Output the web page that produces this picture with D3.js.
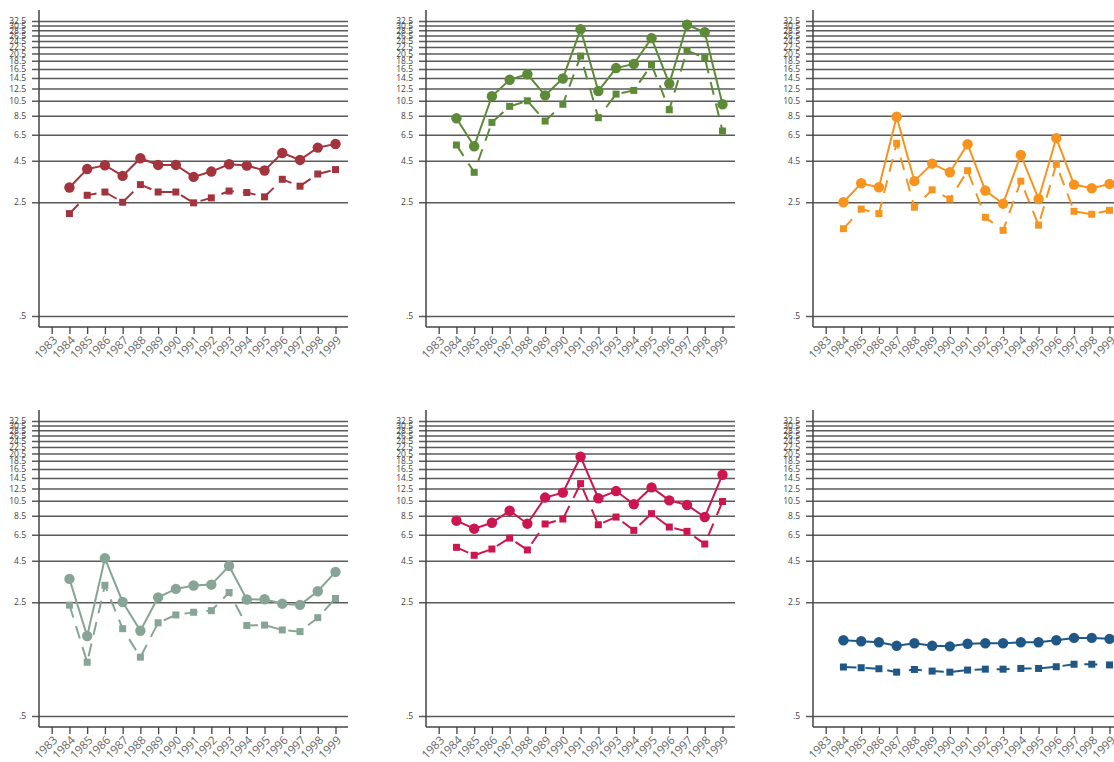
<!DOCTYPE html>
<html>
<head>
<meta charset="utf-8">
<script src="https://cdn.jsdelivr.net/npm/d3@7"></script>
<style>
  html, body { margin: 0; padding: 0; background: #fff; }
  svg { display: block; }
  text { font-family: "Open Sans", "DejaVu Sans", sans-serif; }
</style>
</head>
<body>
<svg id="chart" width="1114" height="762"></svg>
<script>
// Years on the x axis (1983 has a tick but no observation)
const years = [1983, 1984, 1985, 1986, 1987, 1988, 1989, 1990, 1991, 1992, 1993, 1994, 1995, 1996, 1997, 1998, 1999];
const dataYears = [1984, 1985, 1986, 1987, 1988, 1989, 1990, 1991, 1992, 1993, 1994, 1995, 1996, 1997, 1998, 1999];

// Y axis ticks (log scale)
const yTicks = [0.5, 2.5, 4.5, 6.5, 8.5, 10.5, 12.5, 14.5, 16.5, 18.5, 20.5, 22.5, 24.5, 26.5, 28.5, 30.5, 32.5];
const yTickLabels = [".5", "2.5", "4.5", "6.5", "8.5", "10.5", "12.5", "14.5", "16.5", "18.5", "20.5", "22.5", "24.5", "26.5", "28.5", "30.5", "32.5"];

// Series per panel: upper (solid, circles) and lower (dashed, squares)
const redUpper    = [3.08, 4.00, 4.22, 3.63, 4.66, 4.24, 4.24, 3.58, 3.86, 4.28, 4.20, 3.92, 5.02, 4.55, 5.42, 5.70];
const redLower    = [2.13, 2.76, 2.89, 2.50, 3.21, 2.89, 2.89, 2.48, 2.66, 2.93, 2.87, 2.70, 3.46, 3.14, 3.73, 3.97];

const greenUpper  = [8.2, 5.52, 11.2, 14.15, 15.3, 11.35, 14.4, 28.9, 12.06, 16.7, 17.7, 25.5, 13.4, 30.8, 27.7, 10.0];
const greenLower  = [5.62, 3.82, 7.74, 9.71, 10.5, 7.89, 10.0, 19.8, 8.27, 11.55, 12.17, 17.5, 9.26, 21.4, 19.3, 6.85];

const orangeUpper = [2.50, 3.27, 3.09, 8.39, 3.37, 4.32, 3.82, 5.68, 2.95, 2.45, 4.88, 2.62, 6.20, 3.21, 3.05, 3.24];
const orangeLower = [1.72, 2.27, 2.13, 5.76, 2.33, 2.98, 2.62, 3.91, 2.02, 1.68, 3.37, 1.81, 4.28, 2.20, 2.11, 2.23];

const sageUpper   = [3.48, 1.55, 4.66, 2.51, 1.67, 2.68, 3.02, 3.17, 3.21, 4.18, 2.60, 2.61, 2.45, 2.41, 2.92, 3.84];
const sageLower   = [2.40, 1.07, 3.18, 1.72, 1.15, 1.87, 2.09, 2.17, 2.22, 2.87, 1.80, 1.81, 1.69, 1.65, 2.01, 2.64];

const crimsonUpper = [7.93, 7.08, 7.70, 9.13, 7.60, 11.0, 11.8, 19.6, 10.9, 12.06, 10.0, 12.7, 10.57, 9.90, 8.35, 15.2];
const crimsonLower = [5.44, 4.86, 5.31, 6.20, 5.24, 7.57, 8.12, 13.4, 7.49, 8.35, 6.92, 8.76, 7.25, 6.82, 5.70, 10.4];

const blueUpper   = [1.46, 1.44, 1.42, 1.35, 1.40, 1.35, 1.34, 1.39, 1.40, 1.40, 1.42, 1.42, 1.46, 1.51, 1.51, 1.49];
const blueLower   = [1.00, 0.99, 0.976, 0.93, 0.966, 0.944, 0.93, 0.958, 0.97, 0.97, 0.98, 0.98, 1.004, 1.04, 1.04, 1.03];

const panels = [
  { upper: redUpper,     lower: redLower,     color: "#a3343e" },
  { upper: greenUpper,   lower: greenLower,   color: "#5d8a36" },
  { upper: orangeUpper,  lower: orangeLower,  color: "#f7941e" },
  { upper: sageUpper,    lower: sageLower,    color: "#87a596" },
  { upper: crimsonUpper, lower: crimsonLower, color: "#cc1650" },
  { upper: blueUpper,    lower: blueLower,    color: "#1f5886" }
];

const svg = d3.select("#chart");

const colX = [39, 426, 813];
const rowY = [0, 400];
const plotW = 309;

const x = d3.scaleLinear().domain([1983, 1999]).range([12.7, 296.5]);
const y = d3.scaleLog().domain([0.5, 32.5]).range([316, 21]);
const axisBottomY = 327;
const axisTopY = 10;

panels.forEach((p, i) => {
  const g = svg.append("g")
    .attr("transform", `translate(${colX[i % 3]},${rowY[Math.floor(i / 3)]})`);

  // horizontal gridlines with short outer ticks
  const yAxis = d3.axisLeft(y)
    .tickValues(yTicks)
    .tickFormat((d, k) => yTickLabels[k])
    .tickSizeInner(-plotW)
    .tickSizeOuter(0)
    .tickPadding(12);
  const ya = g.append("g").call(yAxis);
  ya.select(".domain").remove();
  ya.selectAll(".tick line")
    .attr("x1", -7)
    .attr("stroke", "#5a5a5a")
    .attr("stroke-width", 1.5);
  ya.selectAll(".tick text")
    .attr("x", -13)
    .attr("fill", "#444")
    .style("font-size", "8.5px");

  // vertical axis line
  g.append("line")
    .attr("x1", 0).attr("x2", 0)
    .attr("y1", axisTopY).attr("y2", axisBottomY)
    .attr("stroke", "#444").attr("stroke-width", 1.5);

  // x axis
  const xAxis = d3.axisBottom(x)
    .tickValues(years)
    .tickFormat(d3.format("d"))
    .tickSizeInner(7)
    .tickSizeOuter(0);
  const xa = g.append("g")
    .attr("transform", `translate(0,${axisBottomY})`)
    .call(xAxis);
  xa.select(".domain")
    .attr("d", `M0,0H${plotW}`)
    .attr("stroke", "#444")
    .attr("stroke-width", 1.5);
  xa.selectAll(".tick line").attr("stroke", "#444").attr("stroke-width", 1.3);
  xa.selectAll(".tick text")
    .attr("fill", "#666")
    .style("font-size", "11.5px")
    .attr("text-anchor", "end")
    .attr("y", 0)
    .attr("dy", "0.35em")
    .attr("transform", "translate(3,11) rotate(-45)");

  const line = d3.line()
    .x((d, k) => x(dataYears[k]))
    .y(d => y(d));

  // lower series: dashed line with square markers
  g.append("path")
    .datum(p.lower)
    .attr("d", line)
    .attr("fill", "none")
    .attr("stroke", p.color)
    .attr("stroke-width", 2)
    .attr("stroke-dasharray", "13,9");
  const sq = 7;
  g.selectAll(".sq")
    .data(p.lower)
    .join("rect")
    .attr("class", "sq")
    .attr("x", (d, k) => x(dataYears[k]) - sq / 2)
    .attr("y", d => y(d) - sq / 2)
    .attr("width", sq)
    .attr("height", sq)
    .attr("fill", p.color);

  // upper series: solid line with circle markers
  g.append("path")
    .datum(p.upper)
    .attr("d", line)
    .attr("fill", "none")
    .attr("stroke", p.color)
    .attr("stroke-width", 2);
  g.selectAll(".dot")
    .data(p.upper)
    .join("circle")
    .attr("class", "dot")
    .attr("cx", (d, k) => x(dataYears[k]))
    .attr("cy", d => y(d))
    .attr("r", 5.2)
    .attr("fill", p.color);
});
</script>
</body>
</html>
